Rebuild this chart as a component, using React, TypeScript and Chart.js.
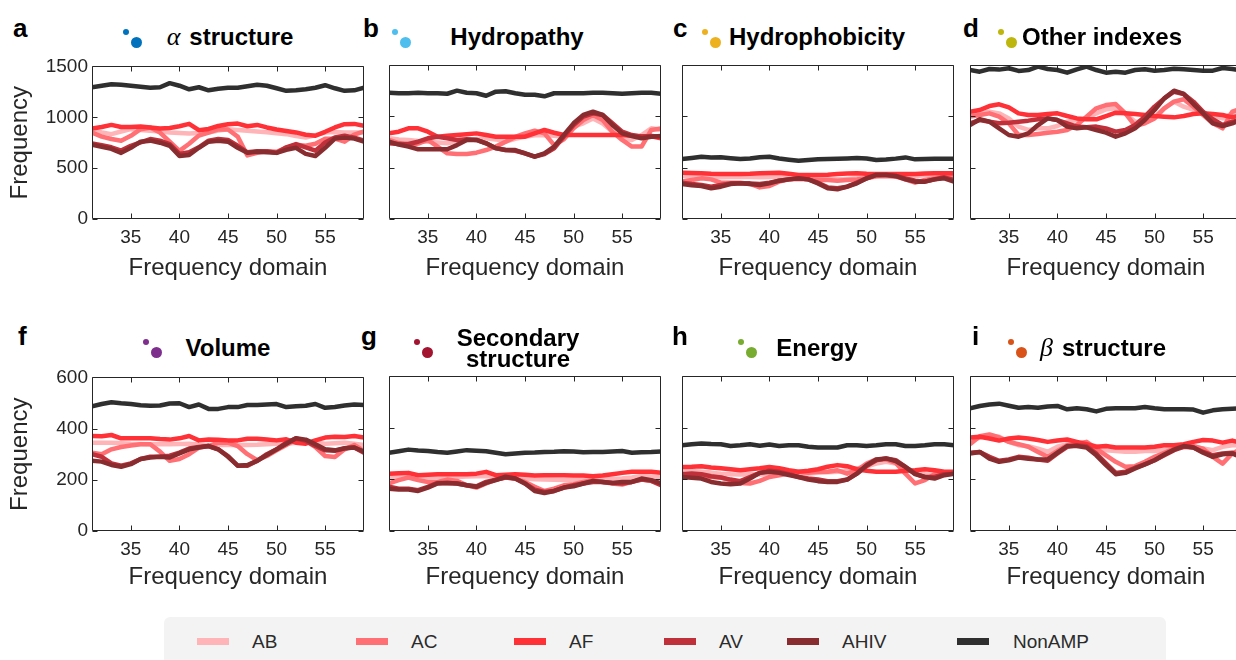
import React, { useEffect, useRef } from "react";
import { Chart, registerables } from "chart.js";

Chart.register(...registerables);

// Frequency-domain positions shared by every panel
const FREQ = [31, 32, 33, 34, 35, 36, 37, 38, 39, 40, 41, 42, 43, 44, 45, 46, 47, 48, 49, 50, 51, 52, 53, 54, 55, 56, 57, 58, 59];

const SERIES = ["AB", "AC", "AF", "AV", "AHIV", "NonAMP"];
const SERIES_COLORS = ["#ffb4b7", "#ff6f73", "#ff3036", "#c0303a", "#892c30", "#2f2f2f"];

const X_TICKS = [35, 40, 45, 50, 55];
const Y_TICKS_TOP = [0, 500, 1000, 1500];
const Y_TICKS_BOTTOM = [0, 200, 400, 600];

// a — alpha structure
const alphaAB = [870, 850, 834, 860, 883, 875, 868, 860, 850, 845, 841, 845, 850, 870, 883, 875, 868, 860, 852, 843, 834, 815, 800, 825, 850, 855, 850, 850, 850];
const alphaAC = [850, 810, 786, 770, 818, 883, 900, 850, 760, 670, 740, 820, 850, 880, 880, 810, 625, 650, 665, 660, 700, 730, 720, 740, 790, 790, 760, 830, 860];
const alphaAF = [890, 905, 925, 905, 905, 910, 900, 890, 895, 912, 935, 873, 885, 915, 932, 938, 912, 925, 900, 880, 866, 851, 828, 818, 857, 900, 932, 935, 915];
const alphaAV = [743, 725, 705, 672, 720, 753, 786, 770, 737, 640, 656, 705, 770, 786, 776, 720, 656, 665, 665, 650, 705, 737, 705, 672, 753, 802, 818, 800, 770];
const alphaAHIV = [730, 710, 690, 650, 700, 760, 770, 750, 720, 620, 630, 700, 760, 770, 760, 700, 650, 660, 655, 650, 680, 700, 640, 620, 700, 790, 800, 790, 760];
const alphaNon = [1295, 1310, 1325, 1320, 1310, 1300, 1290, 1295, 1335, 1310, 1275, 1295, 1265, 1280, 1290, 1290, 1305, 1320, 1310, 1285, 1260, 1265, 1275, 1290, 1315, 1285, 1260, 1265, 1290];

// b — hydropathy
const hydropathyAB = [786, 775, 770, 760, 753, 745, 737, 755, 770, 780, 786, 775, 753, 780, 802, 815, 818, 810, 802, 900, 932, 980, 930, 850, 786, 770, 818, 883, 870];
const hydropathyAC = [770, 740, 720, 735, 770, 705, 640, 633, 633, 646, 672, 705, 753, 800, 834, 860, 834, 720, 776, 883, 964, 1013, 964, 850, 770, 705, 705, 867, 883];
const hydropathyAF = [834, 850, 883, 883, 850, 802, 810, 818, 825, 834, 818, 802, 802, 802, 802, 834, 867, 840, 818, 818, 818, 818, 818, 818, 818, 810, 805, 805, 786];
const hydropathyAV = [737, 730, 730, 753, 786, 802, 786, 770, 776, 770, 737, 688, 672, 665, 640, 607, 633, 688, 802, 915, 997, 1029, 1013, 932, 850, 818, 802, 808, 802];
const hydropathyAHIV = [753, 725, 705, 679, 679, 679, 679, 720, 770, 770, 737, 690, 672, 672, 640, 607, 640, 705, 818, 932, 1013, 1045, 1013, 915, 834, 808, 786, 802, 808];
const hydropathyNon = [1230, 1225, 1225, 1230, 1225, 1225, 1220, 1250, 1230, 1225, 1200, 1240, 1245, 1225, 1210, 1210, 1195, 1225, 1225, 1225, 1225, 1230, 1230, 1225, 1220, 1225, 1230, 1230, 1220];

// c — hydrophobicity
const phobAB = [419, 415, 412, 409, 406, 409, 412, 409, 406, 409, 412, 412, 412, 405, 396, 390, 386, 390, 396, 405, 412, 412, 412, 415, 419, 425, 429, 425, 419];
const phobAC = [364, 380, 396, 386, 354, 354, 354, 341, 308, 321, 364, 386, 396, 386, 380, 380, 373, 380, 386, 396, 419, 429, 412, 386, 354, 380, 396, 412, 406];
const phobAF = [451, 448, 445, 440, 438, 438, 438, 440, 445, 448, 451, 440, 429, 429, 429, 432, 438, 442, 445, 440, 438, 438, 438, 438, 438, 442, 445, 445, 445];
const phobAV = [354, 341, 331, 315, 331, 347, 347, 347, 341, 354, 373, 386, 393, 386, 354, 308, 299, 315, 354, 396, 429, 432, 419, 396, 373, 364, 386, 406, 380];
const phobAHIV = [341, 328, 321, 299, 315, 341, 347, 341, 331, 347, 373, 386, 396, 386, 347, 299, 289, 315, 347, 396, 429, 429, 419, 386, 364, 364, 386, 396, 364];
const phobNon = [584, 595, 607, 600, 601, 592, 584, 590, 601, 607, 590, 578, 568, 575, 581, 585, 588, 590, 594, 590, 575, 580, 588, 600, 581, 585, 588, 588, 588];

// d — other indexes
const otherAB = [1013, 1030, 1045, 1029, 980, 900, 867, 883, 883, 906, 948, 964, 980, 1029, 1068, 1078, 1029, 948, 948, 997, 1078, 1143, 1094, 1062, 1029, 1003, 980, 1029, 1062];
const otherAC = [997, 1013, 1029, 997, 932, 818, 818, 828, 840, 850, 867, 915, 997, 1078, 1110, 1120, 1029, 906, 932, 980, 1078, 1143, 1166, 1094, 1013, 932, 883, 1045, 1078];
const otherAF = [1045, 1062, 1100, 1117, 1088, 1029, 1013, 1013, 1023, 1029, 1003, 980, 971, 971, 1003, 1036, 1029, 1023, 1013, 1003, 997, 990, 1003, 1023, 1029, 1023, 1013, 990, 1013];
const otherAV = [932, 964, 948, 932, 938, 948, 958, 971, 980, 964, 932, 900, 893, 900, 883, 851, 867, 915, 997, 1094, 1175, 1240, 1218, 1143, 1045, 971, 915, 948, 964];
const otherAHIV = [915, 971, 948, 883, 818, 802, 834, 915, 980, 964, 900, 883, 893, 867, 841, 802, 834, 883, 964, 1062, 1175, 1250, 1218, 1120, 1029, 932, 906, 932, 971];
const otherNon = [1451, 1435, 1461, 1455, 1468, 1442, 1451, 1484, 1461, 1451, 1425, 1458, 1484, 1451, 1425, 1435, 1425, 1451, 1458, 1445, 1451, 1464, 1458, 1451, 1445, 1445, 1471, 1461, 1445];

// f — volume
const volumeAB = [345, 345, 345, 343, 341, 340, 339, 339, 339, 340, 341, 338, 336, 336, 336, 336, 336, 337, 339, 341, 341, 345, 349, 345, 341, 343, 345, 341, 336];
const volumeAC = [306, 300, 319, 328, 334, 339, 339, 310, 274, 281, 300, 326, 332, 345, 345, 332, 300, 277, 293, 315, 336, 358, 352, 328, 293, 289, 319, 336, 313];
const volumeAF = [371, 370, 375, 362, 362, 362, 362, 359, 357, 362, 371, 354, 357, 356, 354, 354, 360, 360, 357, 354, 358, 345, 341, 354, 365, 368, 367, 371, 365];
const volumeAV = [300, 290, 264, 255, 264, 281, 290, 290, 294, 306, 322, 328, 332, 319, 293, 255, 255, 274, 300, 319, 345, 362, 352, 332, 315, 313, 323, 326, 306];
const volumeAHIV = [274, 271, 258, 251, 261, 281, 287, 290, 287, 303, 319, 326, 332, 319, 290, 255, 258, 274, 297, 319, 341, 362, 357, 339, 319, 315, 323, 326, 310];
const volumeNon = [487, 496, 503, 499, 496, 491, 489, 490, 498, 499, 484, 494, 477, 477, 484, 484, 492, 492, 494, 496, 484, 487, 489, 496, 481, 484, 490, 494, 492];

// g — secondary structure
const secondaryAB = [209, 209, 209, 208, 207, 208, 209, 209, 211, 212, 213, 211, 209, 206, 203, 200, 199, 198, 197, 198, 199, 199, 199, 201, 203, 207, 213, 211, 209];
const secondaryAC = [184, 197, 207, 197, 190, 190, 199, 194, 177, 168, 184, 199, 207, 203, 190, 171, 155, 164, 177, 181, 190, 197, 190, 184, 180, 190, 199, 194, 184];
const secondaryAF = [222, 224, 225, 216, 218, 220, 220, 220, 220, 222, 229, 216, 218, 220, 218, 215, 216, 216, 216, 215, 215, 212, 215, 220, 225, 229, 229, 229, 225];
const secondaryAV = [171, 164, 164, 158, 171, 186, 186, 184, 177, 173, 190, 199, 207, 203, 184, 160, 151, 155, 168, 177, 184, 190, 190, 186, 184, 190, 199, 194, 177];
const secondaryAHIV = [164, 161, 161, 155, 168, 184, 186, 184, 177, 171, 186, 197, 210, 203, 184, 155, 147, 155, 168, 173, 184, 194, 190, 186, 190, 190, 203, 197, 184];
const secondaryNon = [303, 309, 315, 312, 310, 306, 303, 308, 313, 311, 309, 303, 297, 300, 303, 304, 306, 307, 309, 308, 305, 306, 306, 308, 310, 303, 305, 306, 308];

// h — energy
const energyAB = [235, 232, 229, 226, 222, 220, 219, 220, 219, 220, 222, 222, 222, 223, 225, 227, 229, 236, 242, 250, 261, 268, 261, 245, 229, 220, 219, 222, 225];
const energyAC = [222, 212, 212, 209, 207, 197, 186, 184, 194, 209, 216, 222, 229, 225, 229, 229, 235, 222, 235, 261, 277, 277, 264, 222, 184, 197, 220, 225, 225];
const energyAF = [248, 249, 251, 246, 243, 239, 235, 239, 243, 248, 243, 235, 229, 233, 239, 249, 255, 251, 239, 233, 229, 229, 229, 233, 235, 239, 235, 229, 229];
const energyAV = [220, 223, 220, 212, 207, 199, 193, 209, 225, 233, 229, 220, 209, 203, 199, 193, 193, 199, 222, 251, 274, 281, 274, 248, 222, 209, 209, 220, 222];
const energyAHIV = [209, 206, 203, 190, 184, 181, 184, 203, 225, 229, 225, 217, 209, 199, 193, 190, 190, 199, 222, 255, 277, 281, 271, 248, 220, 209, 203, 216, 222];
const energyNon = [332, 336, 339, 337, 336, 329, 332, 336, 330, 335, 329, 332, 332, 326, 323, 323, 323, 332, 332, 329, 332, 336, 336, 329, 329, 332, 336, 336, 332];

// i — beta structure
const betaAB = [345, 362, 371, 365, 345, 332, 328, 319, 307, 326, 336, 341, 336, 328, 313, 310, 307, 307, 310, 310, 315, 323, 332, 328, 319, 313, 326, 332, 332];
const betaAC = [336, 367, 374, 362, 345, 336, 326, 306, 287, 310, 332, 339, 345, 319, 293, 268, 249, 251, 268, 287, 303, 319, 326, 328, 319, 287, 261, 300, 319];
const betaAF = [362, 365, 358, 350, 358, 362, 358, 352, 345, 350, 354, 345, 336, 326, 329, 323, 323, 323, 323, 326, 332, 332, 336, 345, 352, 350, 342, 350, 340];
const betaAV = [303, 306, 287, 272, 277, 287, 284, 277, 272, 300, 326, 332, 328, 300, 262, 225, 229, 245, 258, 274, 293, 313, 326, 323, 306, 293, 300, 303, 284];
const betaAHIV = [300, 306, 280, 268, 274, 284, 280, 277, 277, 303, 329, 329, 323, 293, 255, 220, 225, 242, 258, 274, 296, 315, 329, 323, 303, 287, 297, 300, 284];
const betaNon = [475, 484, 490, 493, 485, 477, 480, 477, 482, 484, 471, 475, 471, 463, 473, 475, 475, 475, 480, 475, 471, 471, 471, 470, 458, 467, 471, 473, 475];

const SANS = '"Liberation Sans", Arial, Helvetica, sans-serif';
const AXIS_COLOR = "#262626";

const PLOT_W = 272;
const ROWS = [
  { top: 65, height: 154, titlePad: 6, letterBase: 37, titleBase: 45, dotY: 32 },
  { top: 376, height: 155, titlePad: 9, letterBase: 345, titleBase: 356, dotY: 342 },
];
const COL_LEFT = [92, 389, 682, 970];

type Panel = {
  letter: string;
  greek?: string;
  title: string[];
  dot: string;
  row: number;
  col: number;
  yMax: number;
  yTicks: number[];
  values: number[][];
  titleX: number;
  letterX: number;
  dotX: number;
};

const PANELS: Panel[] = [
  { letter: "a", greek: "α", title: ["structure"], dot: "#0072bd", row: 0, col: 0, yMax: 1500, yTicks: Y_TICKS_TOP, values: [alphaAB, alphaAC, alphaAF, alphaAV, alphaAHIV, alphaNon], titleX: 230, letterX: 13, dotX: 126 },
  { letter: "b", title: ["Hydropathy"], dot: "#4dbeee", row: 0, col: 1, yMax: 1500, yTicks: Y_TICKS_TOP, values: [hydropathyAB, hydropathyAC, hydropathyAF, hydropathyAV, hydropathyAHIV, hydropathyNon], titleX: 517, letterX: 363, dotX: 395 },
  { letter: "c", title: ["Hydrophobicity"], dot: "#edb120", row: 0, col: 2, yMax: 1500, yTicks: Y_TICKS_TOP, values: [phobAB, phobAC, phobAF, phobAV, phobAHIV, phobNon], titleX: 817, letterX: 673, dotX: 705 },
  { letter: "d", title: ["Other indexes"], dot: "#bdb60c", row: 0, col: 3, yMax: 1500, yTicks: Y_TICKS_TOP, values: [otherAB, otherAC, otherAF, otherAV, otherAHIV, otherNon], titleX: 1102, letterX: 963, dotX: 1001 },
  { letter: "f", title: ["Volume"], dot: "#7e2f8e", row: 1, col: 0, yMax: 600, yTicks: Y_TICKS_BOTTOM, values: [volumeAB, volumeAC, volumeAF, volumeAV, volumeAHIV, volumeNon], titleX: 228, letterX: 18, dotX: 146 },
  { letter: "g", title: ["Secondary", "structure"], dot: "#a2142f", row: 1, col: 1, yMax: 600, yTicks: Y_TICKS_BOTTOM, values: [secondaryAB, secondaryAC, secondaryAF, secondaryAV, secondaryAHIV, secondaryNon], titleX: 518, letterX: 361, dotX: 417 },
  { letter: "h", title: ["Energy"], dot: "#77ac30", row: 1, col: 2, yMax: 600, yTicks: Y_TICKS_BOTTOM, values: [energyAB, energyAC, energyAF, energyAV, energyAHIV, energyNon], titleX: 817, letterX: 672, dotX: 741 },
  { letter: "i", greek: "β", title: ["structure"], dot: "#d95319", row: 1, col: 3, yMax: 600, yTicks: Y_TICKS_BOTTOM, values: [betaAB, betaAC, betaAF, betaAV, betaAHIV, betaNon], titleX: 1103, letterX: 972, dotX: 1011 },
];

// Box around each axes with short inward tick marks on all four sides
const axesFrame = {
  id: "axesFrame",
  afterDatasetsDraw(chart: any) {
    const { ctx, chartArea } = chart;
    const xs = chart.scales.x;
    const ys = chart.scales.y;
    const L = Math.round(chartArea.left) + 0.5;
    const R = Math.round(chartArea.right) - 0.5;
    const T = Math.round(chartArea.top) + 0.5;
    const B = Math.round(chartArea.bottom) - 0.5;
    ctx.save();
    ctx.strokeStyle = AXIS_COLOR;
    ctx.lineWidth = 1;
    ctx.beginPath();
    ctx.rect(L, T, R - L, B - T);
    xs.ticks.forEach((t: any) => {
      const px = Math.round(xs.getPixelForValue(t.value)) + 0.5;
      ctx.moveTo(px, B);
      ctx.lineTo(px, B - 5);
      ctx.moveTo(px, T);
      ctx.lineTo(px, T + 5);
    });
    ys.ticks.forEach((t: any) => {
      const py = Math.round(ys.getPixelForValue(t.value)) + 0.5;
      ctx.moveTo(L, py);
      ctx.lineTo(L + 5, py);
      ctx.moveTo(R, py);
      ctx.lineTo(R - 5, py);
    });
    ctx.stroke();
    ctx.restore();
  },
};

const PAD_T = 14;
const PAD_R = 6;
const PAD_B = 70;

function PanelChart({ panel }: { panel: Panel }) {
  const ref = useRef<HTMLCanvasElement>(null);
  const row = ROWS[panel.row];
  const showY = panel.col === 0;
  const padL = showY ? 92 : 12;
  const left = COL_LEFT[panel.col] - padL;
  const top = row.top - PAD_T;
  const width = padL + PLOT_W + PAD_R;
  const height = PAD_T + row.height + PAD_B;

  useEffect(() => {
    const canvas = ref.current;
    if (!canvas) return;
    const chart = new Chart(canvas, {
      type: "line",
      data: {
        datasets: SERIES.map((name, i) => ({
          label: name,
          data: FREQ.map((f, j) => ({ x: f, y: panel.values[i][j] })),
          borderColor: SERIES_COLORS[i],
          backgroundColor: SERIES_COLORS[i],
          borderWidth: 4.5,
          pointRadius: 0,
          tension: 0,
          borderJoinStyle: "round",
          order: SERIES.length - i,
          clip: 0,
        })),
      },
      options: {
        responsive: false,
        animation: false,
        devicePixelRatio: 1,
        layout: { padding: { top: PAD_T, right: PAD_R, left: 0, bottom: 0 } },
        plugins: {
          legend: { display: false },
          tooltip: { enabled: false },
        },
        scales: {
          x: {
            type: "linear",
            min: FREQ[0],
            max: FREQ[FREQ.length - 1],
            grid: { display: false, drawTicks: false },
            border: { display: false },
            afterBuildTicks: (s: any) => {
              s.ticks = X_TICKS.map((v) => ({ value: v }));
            },
            afterFit: (s: any) => {
              s.height = PAD_B;
            },
            ticks: {
              color: AXIS_COLOR,
              font: { family: SANS, size: 19 },
              padding: 7,
              maxRotation: 0,
              autoSkip: false,
              callback: (v: any) => String(v),
            },
            title: {
              display: true,
              text: "Frequency domain",
              color: AXIS_COLOR,
              font: { family: SANS, size: 24 },
              padding: { top: 0, bottom: row.titlePad },
            },
          },
          y: {
            min: 0,
            max: panel.yMax,
            grid: { display: false, drawTicks: false },
            border: { display: false },
            afterBuildTicks: (s: any) => {
              s.ticks = panel.yTicks.map((v) => ({ value: v }));
            },
            afterFit: (s: any) => {
              s.width = padL;
            },
            ticks: {
              display: showY,
              color: AXIS_COLOR,
              font: { family: SANS, size: 19 },
              padding: 4,
              callback: (v: any) => String(v),
            },
            title: {
              display: showY,
              text: "Frequency",
              color: AXIS_COLOR,
              font: { family: SANS, size: 24 },
              padding: { top: 6, bottom: 0 },
            },
          },
        },
      } as any,
      plugins: [axesFrame],
    });
    return () => chart.destroy();
  }, [panel]);

  return (
    <canvas
      ref={ref}
      width={width}
      height={height}
      style={{ position: "absolute", left, top, width, height }}
    />
  );
}

function PanelHeading({ panel }: { panel: Panel }) {
  const row = ROWS[panel.row];
  const twoLine = panel.title.length > 1;
  const titleTop = twoLine ? row.titleBase - 29 : row.titleBase - 20.3;
  return (
    <>
      <div
        style={{
          position: "absolute",
          left: panel.letterX,
          top: row.letterBase - 22,
          font: `bold 26px ${SANS}`,
          lineHeight: "26px",
          color: "#000",
        }}
      >
        {panel.letter}
      </div>
      <div
        style={{
          position: "absolute",
          left: panel.dotX - 3,
          top: row.dotY - 3,
          width: 6,
          height: 6,
          borderRadius: "50%",
          background: panel.dot,
        }}
      />
      <div
        style={{
          position: "absolute",
          left: panel.dotX + 10 - 5.5,
          top: row.dotY + 10 - 5.5,
          width: 11,
          height: 11,
          borderRadius: "50%",
          background: panel.dot,
        }}
      />
      <div
        style={{
          position: "absolute",
          left: panel.titleX,
          top: titleTop,
          transform: "translateX(-50%)",
          font: `bold 24px ${SANS}`,
          lineHeight: twoLine ? "21px" : "24px",
          color: "#000",
          whiteSpace: "nowrap",
          textAlign: "center",
        }}
      >
        {panel.greek ? (
          <span
            style={{
              fontFamily: '"Liberation Serif", "DejaVu Serif", serif',
              fontStyle: "italic",
              fontWeight: "normal",
              fontSize: 26,
              lineHeight: 0,
              marginRight: 9,
            }}
          >
            {panel.greek}
          </span>
        ) : null}
        {panel.title.map((line, k) => (
          <React.Fragment key={k}>
            {k > 0 ? <br /> : null}
            {line}
          </React.Fragment>
        ))}
      </div>
    </>
  );
}

const LEGEND_SWATCH_X = [197, 356, 514, 664, 787, 957];
const LEGEND_TEXT_X = [252, 411, 569, 719, 842, 1013];

function Legend() {
  return (
    <div
      style={{
        position: "absolute",
        left: 164,
        top: 617,
        width: 1002,
        height: 60,
        background: "#f3f3f3",
        borderRadius: 6,
      }}
    >
      {SERIES.map((name, i) => (
        <React.Fragment key={name}>
          <div
            style={{
              position: "absolute",
              left: LEGEND_SWATCH_X[i] - 164,
              top: 638 - 617,
              width: 32,
              height: 7,
              background: SERIES_COLORS[i],
            }}
          />
          <div
            style={{
              position: "absolute",
              left: LEGEND_TEXT_X[i] - 164,
              top: 632 - 617,
              font: `19px ${SANS}`,
              lineHeight: "19px",
              color: "#2b2b2b",
              whiteSpace: "nowrap",
            }}
          >
            {name}
          </div>
        </React.Fragment>
      ))}
    </div>
  );
}

export default function App() {
  return (
    <div
      style={{
        position: "absolute",
        left: 0,
        top: 0,
        width: 1236,
        height: 660,
        overflow: "hidden",
        background: "#fff",
        fontFamily: SANS,
      }}
    >
      {PANELS.map((p) => (
        <PanelChart key={p.letter} panel={p} />
      ))}
      {PANELS.map((p) => (
        <PanelHeading key={"h" + p.letter} panel={p} />
      ))}
      <Legend />
    </div>
  );
}
